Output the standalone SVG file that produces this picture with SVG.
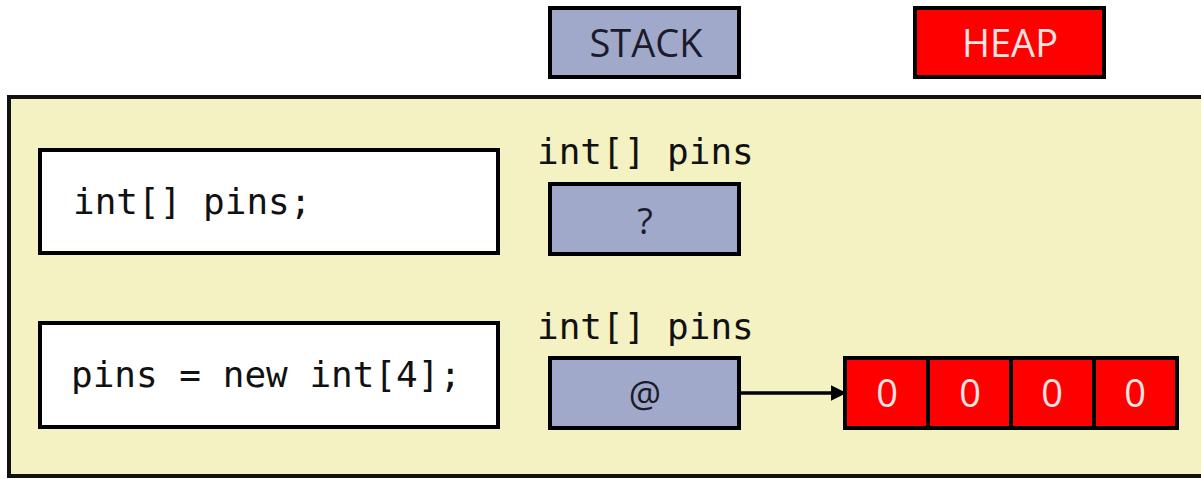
<svg xmlns="http://www.w3.org/2000/svg" width="1201" height="479" viewBox="0 0 1201 479">
<style>
.mono{font-family:"DejaVu Sans Mono","Liberation Mono",monospace;font-size:36px;fill:#111}
.sans{font-family:"Open Sans","Noto Sans",sans-serif}
.stk{fill:#A0A9C9;stroke:#000;stroke-width:4}
.hp{fill:#FF0000;stroke:#000;stroke-width:4}
.code{fill:#fff;stroke:#000;stroke-width:4}
.lt{fill:#1b1b2b;text-anchor:middle}
.wt{fill:#FBE3E3;font-size:38px;text-anchor:middle}
</style>
<defs>
<marker id="ah" markerWidth="16" markerHeight="16" refX="9" refY="5" orient="auto" markerUnits="userSpaceOnUse" viewBox="0 0 10 10">
<path d="M0,0 L10,5 L0,10 z" fill="#000"/>
</marker>
</defs>
<rect width="1201" height="479" fill="#fff"/>
<g id="panel"><rect x="9" y="97" width="1200" height="379" fill="#F4F2C3" stroke="#111" stroke-width="4"/></g>
<g id="stack-header"><rect class="stk" x="550" y="8" width="189" height="69"/><text class="sans" x="646" y="57" text-anchor="middle" font-size="38" fill="#1b1b2b">STACK</text></g>
<g id="heap-header"><rect class="hp" x="915" y="8" width="189" height="69"/><text class="sans" x="1010" y="57" text-anchor="middle" font-size="38" fill="#FBE3E3">HEAP</text></g>
<g id="code1"><rect class="code" x="40" y="150" width="458" height="103"/><text class="mono" x="73" y="214">int[] pins;</text></g>
<g id="code2"><rect class="code" x="40" y="323" width="458" height="104"/><text class="mono" x="71" y="387">pins = new int[4];</text></g>
<g id="stack1"><text class="mono" x="537" y="164">int[] pins</text><rect class="stk" x="550" y="184" width="189" height="70"/><text class="sans lt" x="645" y="234" font-size="36">?</text></g>
<g id="stack2"><text class="mono" x="537" y="339">int[] pins</text><rect class="stk" x="550" y="358" width="189" height="70"/><text class="sans lt" x="645" y="407" font-size="36">@</text></g>
<g id="heap-array">
<rect class="hp" x="845" y="358" width="83" height="70"/>
<rect class="hp" x="928" y="358" width="83" height="70"/>
<rect class="hp" x="1011" y="358" width="83" height="70"/>
<rect class="hp" x="1094" y="358" width="83" height="70"/>
<text class="sans wt" x="887" y="407">0</text>
<text class="sans wt" x="970" y="407">0</text>
<text class="sans wt" x="1052" y="407">0</text>
<text class="sans wt" x="1135" y="407">0</text>
</g>
<g id="connectors"><line x1="741" y1="393" x2="845" y2="393" stroke="#000" stroke-width="3.5" marker-end="url(#ah)"/></g>
</svg>
